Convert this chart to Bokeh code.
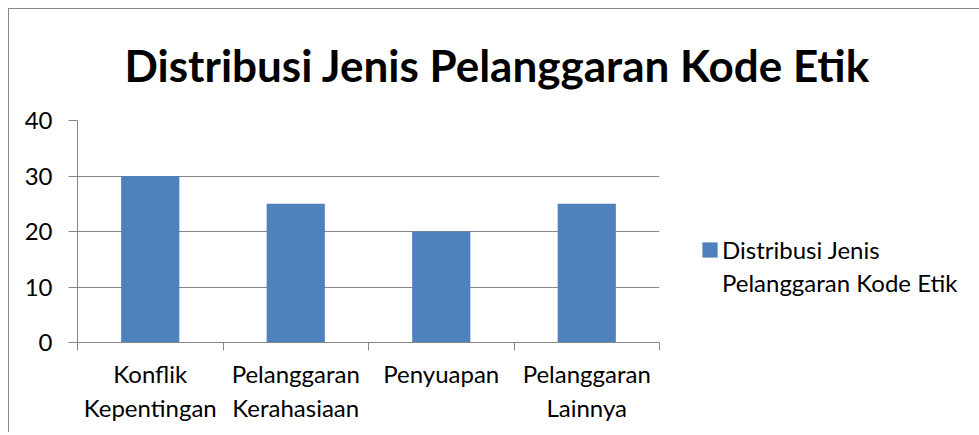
from bokeh.plotting import figure
from bokeh.models import Range1d, FixedTicker, Legend, LegendItem, ColumnDataSource, Spacer
from bokeh.layouts import column, row
from bokeh.embed import file_html
from bokeh.resources import INLINE

categories = ["Konflik\nKepentingan", "Pelanggaran\nKerahasiaan", "Penyuapan", "Pelanggaran\nLainnya"]
values = [30, 25, 20, 25]
y_ticks = [0, 10, 20, 30, 40]
series_name_lines = ["Distribusi Jenis", "Pelanggaran Kode Etik"]
title_text = "Distribusi Jenis Pelanggaran Kode Etik"

FONT = "Lato"
GRAY = "#868686"
BAR = "#4F81BD"

n = len(categories)
centers = [i + 0.5 for i in range(n)]
bounds = list(range(n + 1))

p = figure(frame_width=581, frame_height=221,
           min_border_left=68, min_border_right=318, min_border_top=111, min_border_bottom=91,
           x_range=Range1d(0, n), y_range=Range1d(y_ticks[0], y_ticks[-1]),
           output_backend="svg", toolbar_location=None,
           styles={"border-left": "1px solid #888888", "border-top": "1px solid #888888"})
p.outline_line_color = None
p.background_fill_color = "white"
p.border_fill_color = "white"

src = ColumnDataSource(dict(x=centers, top=values))
r = p.vbar(x="x", top="top", width=0.4, source=src, fill_color=BAR, line_color=None)
# invisible renderer used only to carry the legend's second text line
r_blank = p.vbar(x=[], top=[], width=0.4, fill_alpha=0, line_alpha=0)

# title
p.title.text = title_text
p.title.text_font = FONT
p.title.text_font_style = "bold"
p.title.text_font_size = "44px"
p.title.text_color = "black"
p.title.align = "left"
p.title.vertical_align = "top"
p.title.offset = 47
p.title.standoff = 55

# x axis
p.xaxis.ticker = FixedTicker(ticks=centers, minor_ticks=bounds)
p.xaxis.major_label_overrides = {c: lab for c, lab in zip(centers, categories)}
p.xaxis.major_tick_out = 0
p.xaxis.major_tick_in = 0
p.xaxis.minor_tick_out = 8
p.xaxis.minor_tick_in = 0
p.xaxis.minor_tick_line_color = GRAY
p.xaxis.axis_line_color = GRAY
p.xaxis.major_label_text_font = FONT
p.xaxis.major_label_text_font_size = "24px"
p.xaxis.major_label_text_color = "black"
p.xaxis.major_label_standoff = 8

# y axis
p.yaxis.ticker = FixedTicker(ticks=y_ticks, minor_ticks=[])
p.yaxis.major_tick_out = 9
p.yaxis.major_tick_in = 0
p.yaxis.major_tick_line_color = GRAY
p.yaxis.axis_line_color = GRAY
p.yaxis.major_label_text_font = FONT
p.yaxis.major_label_text_font_size = "24px"
p.yaxis.major_label_text_color = "black"
p.yaxis.major_label_standoff = 16

p.xgrid.grid_line_color = None
p.ygrid.ticker = FixedTicker(ticks=y_ticks)
p.ygrid.grid_line_color = GRAY

# legend
legend = Legend(items=[LegendItem(label=series_name_lines[0], renderers=[r]),
                       LegendItem(label=series_name_lines[1], renderers=[r_blank])],
                location=(41, 45), border_line_color=None, background_fill_alpha=0,
                glyph_width=19, glyph_height=19, label_text_font=FONT,
                label_text_font_size="24px", label_text_color="black",
                label_standoff=3, spacing=4, padding=0, margin=0)
p.add_layout(legend, "right")

layout = column(Spacer(height=8), row(Spacer(width=8), p))
open("out.html", "w").write(file_html(layout, INLINE))
